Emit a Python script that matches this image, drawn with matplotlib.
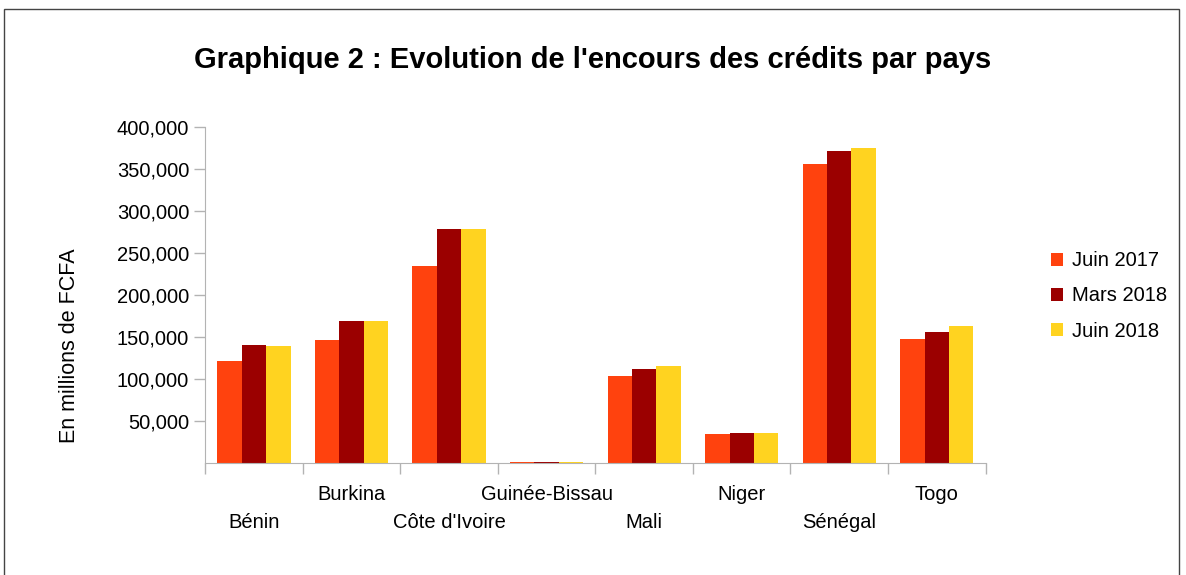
import matplotlib.pyplot as plt
import matplotlib.patches as patches
import numpy as np

plt.rcParams['font.family'] = ['Liberation Sans', 'DejaVu Sans']

pays = ['Bénin', 'Burkina', "Côte d'Ivoire", 'Guinée-Bissau',
        'Mali', 'Niger', 'Sénégal', 'Togo']
juin_2017 = [121000, 146000, 234500, 900, 103500, 34500, 356000, 147600]
mars_2018 = [140500, 169000, 278500, 800, 112000, 35700, 371400, 156000]
juin_2018 = [139000, 169000, 278500, 800, 115500, 35700, 375000, 163000]
series = ['Juin 2017', 'Mars 2018', 'Juin 2018']
colors = ['#FF420E', '#9B0000', '#FFD320']
yticks = [50000, 100000, 150000, 200000, 250000, 300000, 350000, 400000]

fig = plt.figure(figsize=(11.86, 5.75), dpi=100)
ax = fig.add_axes([0.173, 0.195, 0.658, 0.584])

x = np.arange(len(pays))
w = 0.25
for i, (vals, lab, c) in enumerate(zip([juin_2017, mars_2018, juin_2018], series, colors)):
    ax.bar(x + (i - 1) * w, vals, width=w, color=c, label=lab)

ax.set_xlim(-0.5, len(pays) - 0.5)
ax.set_ylim(0, 400000)
ax.set_yticks(yticks)
ax.set_yticklabels([f'{v:,}' for v in yticks], fontsize=14.5)
ax.set_ylabel('En millions de FCFA', fontsize=15.5)
ax.yaxis.set_label_coords(-0.16, 0.348)

ax.set_xticks(np.arange(-0.5, len(pays), 1.0))
ax.set_xticklabels([])
ax.tick_params(axis='both', color='#b3b3b3', length=8, width=1)
for i, p in enumerate(pays):
    yoff = -0.148 if i % 2 == 0 else -0.066
    ax.text(i, yoff, p, transform=ax.get_xaxis_transform(), ha='center',
            va='top', fontsize=14.5)

for s in ['top', 'right']:
    ax.spines[s].set_visible(False)
for s in ['left', 'bottom']:
    ax.spines[s].set_color('#b3b3b3')

fig.suptitle("Graphique 2 : Evolution de l'encours des crédits par pays",
             fontsize=21, fontweight='bold', y=0.92)

ax.legend(loc='center left', bbox_to_anchor=(1.06, 0.497), frameon=False,
          fontsize=14.5, handlelength=0.6, handleheight=0.6, handletextpad=0.45,
          labelspacing=0.8)

fig.add_artist(patches.Rectangle((0.003, -0.05), 0.991, 1.034,
                                 transform=fig.transFigure, fill=False,
                                 edgecolor='#444444', linewidth=1))

fig.savefig('out.png', dpi=100)
